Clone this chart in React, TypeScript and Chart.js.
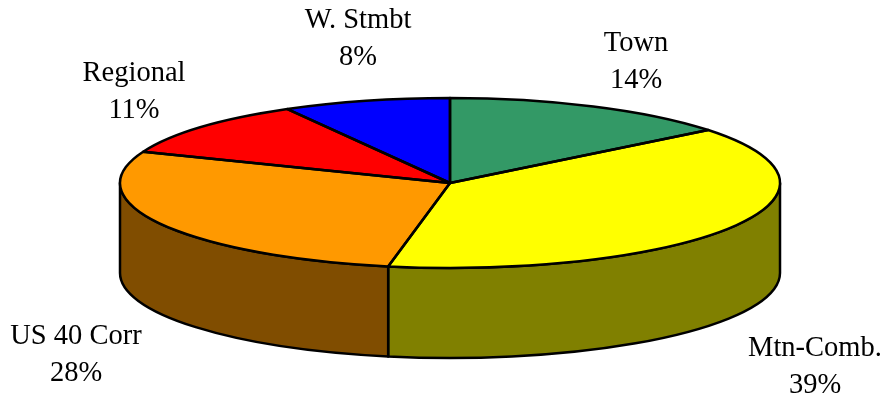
import React, { useEffect, useRef } from "react";
import { Chart, registerables } from "chart.js";

Chart.register(...registerables);

const categories = ["Town", "Mtn-Comb.", "US 40 Corr", "Regional", "W. Stmbt"];
const shares = [14.3, 38.7, 28, 10.8, 8.2];
const shareLabels = ["14%", "39%", "28%", "11%", "8%"];
const topColors = ["#339966", "#FFFF00", "#FF9900", "#FF0000", "#0000FF"];
const sideColors = ["#1A4D33", "#808000", "#804D00", "#800000", "#000080"];

const labelAnchors = [
  { x: 636, y: 51 },
  { x: 815, y: 356 },
  { x: 76, y: 344 },
  { x: 134, y: 81 },
  { x: 358, y: 28 },
];

const CX = 450;
const CY = 183;
const RX = 330;
const RY = 85;
const DEPTH = 90;
const LINE = 2.5;
const LABEL_STEP = 37;
const FONT = '28.5px "Liberation Serif"';

const pie3d = {
  id: "pie3d",
  beforeDatasetsDraw(chart: any) {
    const ctx = chart.ctx;
    const arcs = chart.getDatasetMeta(0).data;
    // Side wall: only the part of each slice on the front half of the ellipse
    arcs.forEach((arc: any, i: number) => {
      const a = Math.max(arc.startAngle, 0);
      const b = Math.min(arc.endAngle, Math.PI);
      if (b <= a) return;
      ctx.save();
      ctx.beginPath();
      ctx.ellipse(CX, CY, RX, RY, 0, a, b);
      ctx.lineTo(CX + RX * Math.cos(b), CY + RY * Math.sin(b) + DEPTH);
      ctx.ellipse(CX, CY + DEPTH, RX, RY, 0, b, a, true);
      ctx.closePath();
      ctx.fillStyle = sideColors[i];
      ctx.fill();
      ctx.lineWidth = LINE;
      ctx.strokeStyle = "#000";
      ctx.lineJoin = "round";
      ctx.stroke();
      ctx.restore();
    });
    // Squash the circular pie into the top face
    const first = arcs[0];
    ctx.save();
    ctx.translate(CX, CY);
    ctx.scale(RX / first.outerRadius, RY / first.outerRadius);
    ctx.translate(-first.x, -first.y);
  },
  afterDatasetsDraw(chart: any) {
    const ctx = chart.ctx;
    ctx.restore();
    const arcs = chart.getDatasetMeta(0).data;
    ctx.save();
    ctx.lineWidth = LINE;
    ctx.strokeStyle = "#000";
    ctx.lineJoin = "round";
    arcs.forEach((arc: any) => {
      ctx.beginPath();
      ctx.moveTo(CX, CY);
      ctx.ellipse(CX, CY, RX, RY, 0, arc.startAngle, arc.endAngle);
      ctx.closePath();
      ctx.stroke();
    });
    ctx.fillStyle = "#000";
    ctx.font = FONT;
    ctx.textAlign = "center";
    ctx.textBaseline = "alphabetic";
    categories.forEach((name, i) => {
      const p = labelAnchors[i];
      ctx.fillText(name, p.x, p.y);
      ctx.fillText(shareLabels[i], p.x, p.y + LABEL_STEP);
    });
    ctx.restore();
  },
};

export default function App() {
  const ref = useRef<HTMLCanvasElement>(null);
  useEffect(() => {
    document.body.style.margin = "0";
    document.body.style.background = "#fff";
    const chart = new Chart(ref.current!, {
      type: "pie",
      data: {
        labels: categories,
        datasets: [
          {
            data: shares,
            backgroundColor: topColors,
            borderWidth: 0,
            clip: false,
          } as any,
        ],
      },
      options: {
        responsive: false,
        animation: false,
        events: [],
        plugins: { legend: { display: false }, tooltip: { enabled: false } },
      },
      plugins: [pie3d],
    });
    return () => chart.destroy();
  }, []);
  return <canvas ref={ref} width={885} height={401} style={{ display: "block" }} />;
}
